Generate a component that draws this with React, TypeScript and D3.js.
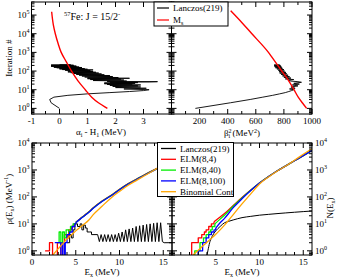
import * as d3 from 'd3'

type P = [number, number]

// ---- top panels: [iteration, value] ----
const alphaLanczos: P[] = [
  [1, 0.0], [2, -0.3], [3, -0.35], [4, -0.2], [5, 0.3], [6, 1.0], [7, 1.8], [8, 2.5], [9, 3.0], [10, 3.2],
  [11, 2.3], [12, 3.1], [13, 2.0], [14, 2.9], [15, 1.9], [16, 2.8], [17, 1.8], [18, 2.9], [19, 1.7], [20, 2.6],
  [21, 1.6], [22, 2.7], [23, 1.6], [24, 2.8], [25, 1.8], [26, 3.2], [27, 3.5], [28, 1.7], [29, 2.4], [31, 1.2],
  [33, 2.3], [35, 1.1], [37, 2.2], [39, 1.0], [41, 2.5], [43, 1.0], [45, 2.1], [48, 0.9], [51, 1.9], [54, 0.8],
  [57, 1.8], [60, 0.7], [63, 1.6], [66, 0.6], [70, 1.5], [74, 0.5], [78, 1.4], [82, 0.4], [86, 1.3], [90, 0.3],
  [95, 1.2], [100, 0.3], [105, 1.1], [110, 0.2], [115, 1.2], [120, 0.1], [125, 1.0], [130, 0.0], [135, 0.9],
  [140, 0.0], [145, 0.8], [150, -0.1], [155, 0.8], [160, -0.2], [165, 0.7], [170, -0.2], [175, 0.6], [180, -0.3],
  [185, 0.6], [190, -0.3], [195, 0.5], [200, -0.3], [205, 0.5], [210, -0.3], [215, 0.4], [219, 0.0],
]
const alphaMs: P[] = [
  [1, 1.71], [2, 1.39], [4, 1.15], [10, 0.92], [30, 0.66], [100, 0.43], [300, 0.25], [1000, 0.06],
  [3000, -0.05], [10000, -0.15], [30000, -0.22], [150000, -0.28],
]
const betaLanczos: P[] = [
  [1, 170], [2, 420], [3, 560], [4, 650], [5, 720], [6, 770], [7, 810], [8, 835], [9, 855], [10, 870],
  [11, 840], [12, 880], [14, 850], [16, 900], [18, 860], [20, 910], [22, 870], [25, 925], [27, 900], [29, 850],
  [32, 830], [35, 870], [38, 810], [42, 850], [46, 800], [50, 840], [55, 790], [60, 830], [66, 780], [72, 820],
  [78, 770], [85, 815], [92, 765], [100, 805], [110, 760], [120, 800], [130, 750], [140, 790], [150, 740],
  [160, 785], [170, 735], [180, 780], [190, 730], [200, 775], [210, 730], [219, 770],
]
const betaMs: P[] = [
  [1, 962], [2, 931], [4, 902], [10, 872], [33, 831], [100, 785], [590, 712], [1000, 690], [10500, 569],
  [40000, 500], [170000, 421],
]

// ---- bottom panels: [Ex (MeV), value] ----
const rhoLanczosSteps: P[] = [
  [4.0, 2], [4.3, 4], [4.5, 3], [4.7, 6], [4.9, 10], [5.2, 8], [5.5, 10], [5.7, 6], [5.9, 9], [6.1, 7],
  [6.3, 5], [6.6, 5], [6.8, 4], [7.5, 4],
]
const rhoLanczosTeeth: P[] = [
  [7.5, 4], [7.7, 2.2], [7.9, 4], [8.1, 2.2], [8.3, 4], [8.5, 2.2], [8.7, 4], [8.9, 2.2], [9.1, 4], [9.3, 2.2],
  [9.5, 4], [9.7, 2.2], [9.9, 4.5], [10.1, 2.2], [10.3, 5], [10.5, 2.2], [10.7, 6], [10.9, 2.2], [11.1, 6.5],
  [11.3, 2.2], [11.5, 7], [11.7, 2.2], [11.9, 8], [12.1, 2.2], [12.3, 8.5], [12.5, 2.2], [12.7, 9], [12.9, 2.2],
  [13.1, 9.5], [13.3, 2.2], [13.5, 10], [13.7, 2.2], [13.9, 10.5], [14.1, 2.2], [14.3, 11], [14.5, 2.2],
  [14.7, 11], [14.9, 2.2], [15.1, 2], [16, 2],
]
const rhoElm4Steps: P[] = [
  [1.5, 1], [2.0, 2], [2.35, 0.1], [2.9, 2], [3.3, 0.1], [3.5, 2], [3.7, 4], [4.0, 3], [4.2, 6], [4.5, 8], [4.8, 10], [5.0, 11],
]
const rhoElm40Steps: P[] = [
  [2.9, 2], [3.1, 5], [3.3, 2], [3.5, 5], [3.7, 3], [3.9, 6], [4.2, 5], [4.4, 8], [4.7, 10], [5.0, 11],
]
const rhoElm100Steps: P[] = [
  [2.6, 2], [3.3, 0.1], [3.5, 2], [3.7, 0.1], [3.8, 2], [4.0, 4], [4.3, 5], [4.6, 8], [4.9, 10], [5.0, 11],
]
const rhoElmSmooth: P[] = [
  [5, 11], [5.5, 15], [6, 20], [6.5, 27], [7, 38], [8, 68], [9, 108], [10, 185], [11, 300], [12, 450],
  [13, 680], [14, 990], [15, 1400], [16, 1900],
]
const rhoBinomial: P[] = [
  [2.4, 0.7], [3, 1.2], [3.5, 1.8], [4, 2.8], [4.5, 3.9], [5, 5.5], [5.5, 7.5], [6, 10], [6.5, 14], [7, 22],
  [8, 45], [9, 90], [10, 160], [11, 270], [12, 420], [13, 650], [14, 1000], [15, 1450], [16, 2050],
]

const nLanczos: P[] = [
  [4.0, 0.7], [4.1, 1], [4.3, 2], [4.5, 3], [4.8, 4.5], [5, 5.5], [5.5, 8], [6, 11], [6.5, 12.5], [7, 14],
  [8, 17], [9, 19], [10, 21], [11, 22.5], [12, 24], [13, 25.5], [14, 27], [15, 28.5], [16, 30],
]
const nElm4Steps: P[] = [[2.25, 2], [3.0, 3], [3.4, 4], [3.7, 5], [3.9, 6], [4.2, 8], [4.5, 10], [4.8, 12]]
const nElm40Steps: P[] = [[2.6, 1], [3.2, 2], [3.6, 3], [3.9, 4], [4.2, 5], [4.4, 6], [4.6, 8], [4.9, 10]]
const nElm100Steps: P[] = [[3.0, 1], [3.5, 2], [3.9, 3], [4.2, 4], [4.5, 5], [4.8, 6], [5.0, 7]]
const nElm4Smooth: P[] = [[4.8, 12], [5.5, 18], [6, 24], [7, 48], [8, 95], [9, 180], [10, 330], [11, 560], [12, 920], [13, 1420], [14, 2200], [15, 3400], [16, 5300]]
const nElm40Smooth: P[] = [[4.9, 10], [5.5, 15], [6, 21], [7, 45], [8, 92], [9, 178], [10, 328], [11, 560], [12, 920], [13, 1420], [14, 2200], [15, 3400], [16, 5300]]
const nElm100Smooth: P[] = [[5.0, 7], [5.5, 11], [6, 16], [7, 40], [8, 85], [9, 172], [10, 325], [11, 558], [12, 918], [13, 1420], [14, 2200], [15, 3400], [16, 5300]]
const nBinomial: P[] = [
  [2.4, 0.7], [3, 1.05], [3.5, 1.5], [4, 2.1], [4.5, 2.9], [5, 4.1], [5.5, 6], [6, 9], [6.5, 14], [7, 22],
  [7.5, 35], [8, 55], [9, 130], [10, 300], [11, 540], [12, 900], [13, 1400], [14, 2300], [15, 3800], [16, 6200],
]

const legendTop = [
  { label: 'Lanczos(219)', color: '#000' },
  { label: 'Ms', color: '#ff0000' },
]
const legendBottom = [
  { label: 'Lanczos(219)', color: '#000' },
  { label: 'ELM(8,4)', color: '#ff0000' },
  { label: 'ELM(8,40)', color: '#00ee00' },
  { label: 'ELM(8,100)', color: '#0000ff' },
  { label: 'Binomial Cont', color: '#ffa500' },
]

const FONT = '"Liberation Serif", "DejaVu Serif", serif'

const yTop = d3.scaleLog().domain([0.5, 5e5]).range([114, 2])
const xTL = d3.scaleLinear().domain([-1, 4]).range([31.5, 171.5])
const xTR = d3.scaleLinear().domain([0, 1000]).range([171.5, 312])
const yBot = d3.scaleLog().domain([0.7, 1e4]).range([255, 143])
const xBL = d3.scaleLinear().domain([0, 16]).range([32, 172])
const xBR = d3.scaleLinear().domain([0, 16]).range([172, 312])

const linTicks = (dom: number[], step: number) => {
  const out: number[] = []
  for (let v = Math.ceil(dom[0] / step - 1e-9) * step; v <= dom[1] + 1e-9; v += step) out.push(+v.toFixed(6))
  return out
}
const logTicks = (dom: number[]) => {
  const maj: number[] = []
  const min: number[] = []
  for (let e = Math.floor(Math.log10(dom[0])); e <= Math.ceil(Math.log10(dom[1])); e++) {
    for (let m = 1; m < 10; m++) {
      const v = m * 10 ** e
      if (v < dom[0] * 0.999 || v > dom[1] * 1.001) continue
      if (m === 1) maj.push(v)
      else min.push(v)
    }
  }
  return { maj, min }
}

type LinScale = d3.ScaleLinear<number, number>
type LogScale = d3.ScaleLogarithmic<number, number>

function Panel({ id, x, y, major, minor, children }: {
  id: string; x: LinScale; y: LogScale; major: number; minor: number; children: React.ReactNode
}) {
  const [x0, x1] = x.range()
  const [y1, y0] = y.range()
  const xMaj = linTicks(x.domain(), major)
  const xMin = linTicks(x.domain(), minor).filter((v) => !xMaj.some((m) => Math.abs(m - v) < 1e-6))
  const { maj: yMaj, min: yMin } = logTicks(y.domain())
  const ticks: string[] = []
  const push = (v: number, len: number) => {
    const px = x(v)
    ticks.push(`M${px},${y1}v${-len}M${px},${y0}v${len}`)
  }
  xMaj.forEach((v) => push(v, 5))
  xMin.forEach((v) => push(v, 3))
  const pushY = (v: number, len: number) => {
    const py = y(v)
    ticks.push(`M${x0},${py}h${len}M${x1},${py}h${-len}`)
  }
  yMaj.forEach((v) => pushY(v, 5))
  yMin.forEach((v) => pushY(v, 3))
  return (
    <g>
      <clipPath id={id}>
        <rect x={x0} y={y0} width={x1 - x0} height={y1 - y0} />
      </clipPath>
      <g clipPath={`url(#${id})`}>{children}</g>
      <path d={ticks.join('')} stroke="#000" strokeWidth={1} fill="none" />
      <rect x={x0} y={y0} width={x1 - x0} height={y1 - y0} fill="none" stroke="#000" strokeWidth={1} />
    </g>
  )
}

// top panels: value on x, iteration on y
const iterLine = (x: LinScale, curve: d3.CurveFactory = d3.curveLinear) =>
  d3.line<P>().x((d) => x(d[1])).y((d) => yTop(d[0])).curve(curve)
const energyLine = (x: LinScale, curve: d3.CurveFactory = d3.curveLinear) =>
  d3.line<P>().x((d) => x(d[0])).y((d) => yBot(Math.max(d[1], 0.3))).curve(curve)

function LogLabel({ x, y, exp, anchor }: { x: number; y: number; exp: number; anchor: 'start' | 'end' }) {
  return (
    <text x={x} y={y + 3} textAnchor={anchor} fontSize={9}>
      10<tspan dy={-4} fontSize={6}>{exp}</tspan>
    </text>
  )
}

export default function App() {
  const path = (d: string | null, color: string, w = 1.2) => (
    <path d={d ?? ''} fill="none" stroke={color} strokeWidth={w} strokeLinejoin="round" />
  )
  return (
    <svg width={341} height={280} style={{ position: 'absolute', left: 0, top: 0, background: '#fff' }} fontFamily={FONT}>
      <rect width={341} height={280} fill="#fff" />
      <Panel id="tl" x={xTL} y={yTop} major={1} minor={0.5}>
        {path(iterLine(xTL)(alphaLanczos), '#000', 0.9)}
        {path(iterLine(xTL, d3.curveMonotoneY)(alphaMs), '#ff0000', 1.4)}
      </Panel>
      <Panel id="tr" x={xTR} y={yTop} major={200} minor={100}>
        {path(iterLine(xTR)(betaLanczos), '#000', 0.9)}
        {path(iterLine(xTR, d3.curveMonotoneY)(betaMs), '#ff0000', 1.4)}
      </Panel>
      <Panel id="bl" x={xBL} y={yBot} major={5} minor={1}>
        {path(energyLine(xBL, d3.curveStepAfter)(rhoLanczosSteps), '#000', 1)}
        {path(energyLine(xBL)(rhoLanczosTeeth), '#000', 1)}
        {path(energyLine(xBL, d3.curveStepAfter)(rhoElm4Steps), '#ff0000', 1.3)}
        {path(energyLine(xBL, d3.curveMonotoneX)(rhoElmSmooth.map(([e, v]) => [e, v * 1.04] as P)), '#ff0000', 1.3)}
        {path(energyLine(xBL, d3.curveStepAfter)(rhoElm40Steps), '#00ee00', 1.3)}
        {path(energyLine(xBL, d3.curveMonotoneX)(rhoElmSmooth.map(([e, v]) => [e, v * 1.02] as P)), '#00ee00', 1.3)}
        {path(energyLine(xBL, d3.curveStepAfter)(rhoElm100Steps), '#0000ff', 1.3)}
        {path(energyLine(xBL, d3.curveMonotoneX)(rhoElmSmooth), '#0000ff', 1.3)}
        {path(energyLine(xBL, d3.curveMonotoneX)(rhoBinomial), '#ffa500', 1.3)}
      </Panel>
      <Panel id="br" x={xBR} y={yBot} major={5} minor={1}>
        {path(energyLine(xBR, d3.curveMonotoneX)(nLanczos), '#000', 1)}
        {path(energyLine(xBR, d3.curveStepAfter)([[2.25, 0.3], ...nElm4Steps]), '#ff0000', 1.3)}
        {path(energyLine(xBR, d3.curveMonotoneX)(nElm4Smooth), '#ff0000', 1.3)}
        {path(energyLine(xBR, d3.curveStepAfter)([[2.6, 0.3], ...nElm40Steps]), '#00ee00', 1.3)}
        {path(energyLine(xBR, d3.curveMonotoneX)(nElm40Smooth), '#00ee00', 1.3)}
        {path(energyLine(xBR, d3.curveStepAfter)([[3.0, 0.3], ...nElm100Steps]), '#0000ff', 1.3)}
        {path(energyLine(xBR, d3.curveMonotoneX)(nElm100Smooth), '#0000ff', 1.3)}
        {path(energyLine(xBR, d3.curveMonotoneX)(nBinomial), '#ffa500', 1.3)}
      </Panel>

      {/* tick labels */}
      <g fontSize={9} textAnchor="middle">
        {[-1, 0, 1, 2, 3].map((v) => <text key={'a' + v} x={xTL(v)} y={124}>{v}</text>)}
        {[200, 400, 600, 800, 1000].map((v) => <text key={'b' + v} x={xTR(v)} y={124}>{v}</text>)}
        {[0, 5, 10, 15].map((v) => <text key={'c' + v} x={xBL(v)} y={265}>{v}</text>)}
        {[5, 10, 15].map((v) => <text key={'d' + v} x={xBR(v)} y={265}>{v}</text>)}
      </g>
      {[0, 1, 2, 3, 4, 5].map((e) => <LogLabel key={'t' + e} x={29.5} y={yTop(10 ** e)} exp={e} anchor="end" />)}
      {[0, 1, 2, 3, 4].map((e) => <LogLabel key={'l' + e} x={29.5} y={yBot(10 ** e)} exp={e} anchor="end" />)}
      {[0, 1, 2, 3, 4].map((e) => <LogLabel key={'r' + e} x={315} y={yBot(10 ** e)} exp={e} anchor="start" />)}

      {/* axis titles */}
      <text x={101} y={135} fontSize={9} textAnchor="middle">
        α<tspan dy={2} fontSize={6}>i</tspan><tspan dy={-2}> - H</tspan><tspan dy={2} fontSize={6}>1</tspan>
        <tspan dy={-2}> (MeV)</tspan>
      </text>
      <text x={242} y={135.5} fontSize={9} textAnchor="middle">
        β<tspan dy={-3} fontSize={6}>2</tspan><tspan dx={-3} dy={5} fontSize={6}>i</tspan>
        <tspan dy={-2}> (MeV</tspan><tspan dy={-3} fontSize={6}>2</tspan><tspan dy={3}>)</tspan>
      </text>
      {[102, 242].map((cx) => (
        <text key={cx} x={cx} y={275} fontSize={9} textAnchor="middle">
          E<tspan dy={2} fontSize={6}>x</tspan><tspan dy={-2}> (MeV)</tspan>
        </text>
      ))}
      <text transform="translate(12,58) rotate(-90)" fontSize={9} textAnchor="middle">Iteration #</text>
      <text transform="translate(12,199) rotate(-90)" fontSize={9} textAnchor="middle">
        ρ(E<tspan dy={2} fontSize={6}>x</tspan><tspan dy={-2}>) (MeV</tspan>
        <tspan dy={-4} fontSize={6}>-1</tspan><tspan dy={4}>)</tspan>
      </text>
      <text transform="translate(333,208) rotate(-90)" fontSize={9} textAnchor="middle">
        N(E<tspan dy={2} fontSize={6}>x</tspan><tspan dy={-2}>)</tspan>
      </text>

      {/* annotation */}
      <text x={64} y={20} fontSize={10}>
        <tspan dy={-4} fontSize={6.5}>57</tspan><tspan dy={4}>Fe: J = 15/2</tspan>
        <tspan dy={-4} fontSize={6.5}>-</tspan>
      </text>

      {/* legends */}
      <g>
        <rect x={154} y={2} width={74} height={24} fill="#fff" stroke="#000" strokeWidth={1} />
        {legendTop.map((d, i) => (
          <g key={d.label}>
            <line x1={157} x2={169} y1={8 + i * 12} y2={8 + i * 12} stroke={d.color} strokeWidth={1.2} />
            <text x={173} y={11 + i * 12} fontSize={9}>
              {i === 0 ? d.label : <>M<tspan dy={2} fontSize={6}>s</tspan></>}
            </text>
          </g>
        ))}
      </g>
      <g>
        <rect x={157.5} y={142.5} width={76} height={54} fill="#fff" stroke="#000" strokeWidth={1} />
        {legendBottom.map((d, i) => (
          <g key={d.label}>
            <line x1={161} x2={176} y1={148.5 + i * 10.8} y2={148.5 + i * 10.8} stroke={d.color} strokeWidth={1.3} />
            <text x={180} y={151.5 + i * 10.8} fontSize={9}>{d.label}</text>
          </g>
        ))}
      </g>
    </svg>
  )
}
